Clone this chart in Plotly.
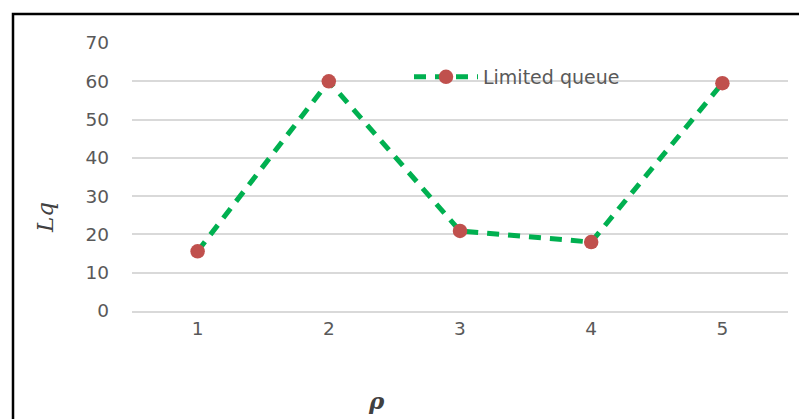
import plotly.graph_objects as go

categories = ["1", "2", "3", "4", "5"]
lq_values = [15.6, 60.0, 20.9, 18.0, 59.5]
series_name = "Limited queue"

fig = go.Figure()
fig.add_trace(go.Scatter(
    x=categories, y=lq_values, name=series_name, mode="lines+markers",
    line=dict(color="#00B050", width=5, dash="12px,9px"),
    marker=dict(color="#C0504D", size=14.5),
    showlegend=True,
))

OFF = 8  # page body margin
W, H = 791, 411
L, T = 132 - OFF, 43 - OFF
R = W - (788 - OFF)
B = H - (311 - OFF)
pw, ph = W - L - R, H - T - B

def px(x):
    return (x - OFF - L) / pw

def py(y):
    return (H - B - (y - OFF)) / ph

fig.update_layout(
    width=W, height=H,
    margin=dict(l=L, r=R, t=T, b=B),
    paper_bgcolor="white", plot_bgcolor="white",
    font=dict(family="DejaVu Sans", color="#595959", size=18),
    xaxis=dict(type="category", range=[-0.5, 4.5], showgrid=False,
               showline=True, linecolor="#D9D9D9", linewidth=1.5,
               ticks="", tickfont=dict(size=18.5, color="#595959",
                                       family="DejaVu Sans")),
    yaxis=dict(range=[0, 70], dtick=10, showgrid=True, gridcolor="#D9D9D9",
               gridwidth=1.5, zeroline=False, showline=False, ticks="",
               ticklabelstandoff=22,
               tickfont=dict(size=18.5, color="#595959", family="DejaVu Sans")),
    legend=dict(x=px(409), y=py(77), xanchor="left", yanchor="middle",
                bgcolor="rgba(0,0,0,0)", font=dict(size=19, color="#595959",
                                                   family="DejaVu Sans"),
                itemwidth=64),
    shapes=[dict(type="rect", xref="paper", yref="paper",
                 x0=px(13), x1=px(840), y0=py(14), y1=py(460),
                 line=dict(color="black", width=2.5), fillcolor="rgba(0,0,0,0)",
                 layer="above")],
    annotations=[
        dict(text="<i>Lq</i>", xref="paper", yref="paper", x=px(45), y=py(218),
             showarrow=False, textangle=-90, xanchor="center", yanchor="middle",
             font=dict(family="DejaVu Serif", size=23, color="#404040")),
        dict(text="<b><i>ρ</i></b>", xref="paper", yref="paper", x=px(376), y=py(400),
             showarrow=False, xanchor="center", yanchor="middle",
             font=dict(family="DejaVu Serif", size=23, color="#404040")),
    ],
)

fig.write_html("out.html")
